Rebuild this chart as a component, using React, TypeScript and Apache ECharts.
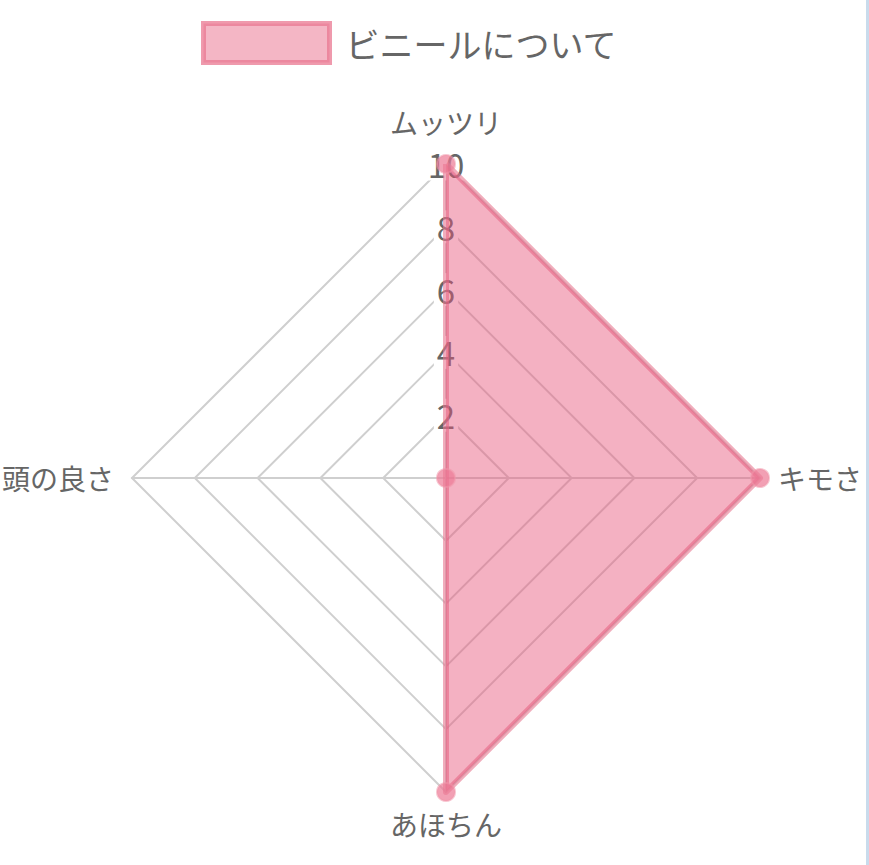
import React, { useEffect, useRef } from "react";
import * as echarts from "echarts";

// Indicators in ECharts radar order (top, then counter-clockwise)
const indicatorNames = ["ムッツリ", "頭の良さ", "あほちん", "キモさ"];
const seriesName = "ビニールについて";
const seriesValues = [10, 0, 10, 10];
const scaleMin = 0;
const scaleMax = 10;
const scaleStep = 2;

export default function App() {
  const ref = useRef<HTMLDivElement>(null);
  useEffect(() => {
    document.body.style.margin = "0";
    if (!ref.current) return;
    const chart = echarts.init(ref.current, undefined, { renderer: "svg" });
    const center = [446, 478];
    const radius = 314;
    const font = '"Noto Sans CJK JP", "Noto Sans", sans-serif';
    chart.setOption({
      animation: false,
      backgroundColor: "#ffffff",
      textStyle: { fontFamily: font },
      legend: {
        left: 196,
        top: 16,
        icon: "rect",
        itemWidth: 126,
        itemHeight: 39,
        data: [seriesName],
        itemStyle: {
          color: "rgba(234, 110, 140, 0.5)",
          borderColor: "rgba(234, 120, 146, 0.75)",
          borderWidth: 5,
        },
        textStyle: {
          color: "#666666",
          fontSize: 34,
          fontFamily: font,
          padding: [0, 0, 0, 11],
        },
      },
      radar: {
        center,
        radius,
        shape: "polygon",
        splitNumber: (scaleMax - scaleMin) / scaleStep,
        startAngle: 90,
        indicator: indicatorNames.map((name) => ({ name, min: scaleMin, max: scaleMax })),
        axisName: {
          color: "#666666",
          fontSize: 28,
          fontFamily: font,
          formatter: (name: string) => (name === indicatorNames[0] ? `{t|${name}}` : name),
          rich: {
            t: { color: "#666666", fontSize: 28, fontFamily: font, padding: [0, 0, 10, 0] },
          },
        },
        nameGap: 18,
        splitArea: { show: false },
        splitLine: { lineStyle: { color: "#cfcfcf", width: 2 } },
        axisLine: { lineStyle: { color: "#cfcfcf", width: 2 } },
        axisTick: { show: false },
        axisLabel: { show: false },
      },
      polar: { center, radius },
      angleAxis: {
        show: false,
        type: "value",
        min: 0,
        max: 360,
        startAngle: 90,
      },
      radiusAxis: {
        type: "value",
        min: scaleMin,
        max: scaleMax,
        interval: scaleStep,
        z: 1,
        axisLine: { show: false },
        axisTick: { show: false },
        splitLine: { show: false },
        axisLabel: {
          show: true,
          showMinLabel: false,
          color: "#666666",
          fontSize: 33,
          fontFamily: font,
          align: "center",
          verticalAlign: "middle",
          margin: 0,
          backgroundColor: "#ffffff",
          padding: [0, 3],
          offset: [-2, -3],
        },
      },
      graphic: [
        {
          type: "rect",
          right: 0,
          top: 0,
          shape: { width: 3, height: 865 },
          style: { fill: "#c9dbec" },
        },
      ],
      series: [
        {
          type: "radar",
          name: seriesName,
          z: 3,
          symbol: "circle",
          symbolSize: 18,
          itemStyle: {
            color: "rgba(236, 120, 148, 0.7)",
            borderColor: "rgba(240, 150, 170, 0.55)",
            borderWidth: 2,
          },
          lineStyle: { color: "rgba(232, 118, 144, 0.6)", width: 6 },
          areaStyle: { color: "rgba(230, 82, 120, 0.45)", opacity: 1 },
          data: [{ name: seriesName, value: seriesValues }],
        },
      ],
    });
    return () => chart.dispose();
  }, []);
  return <div ref={ref} style={{ width: 869, height: 865 }} />;
}
